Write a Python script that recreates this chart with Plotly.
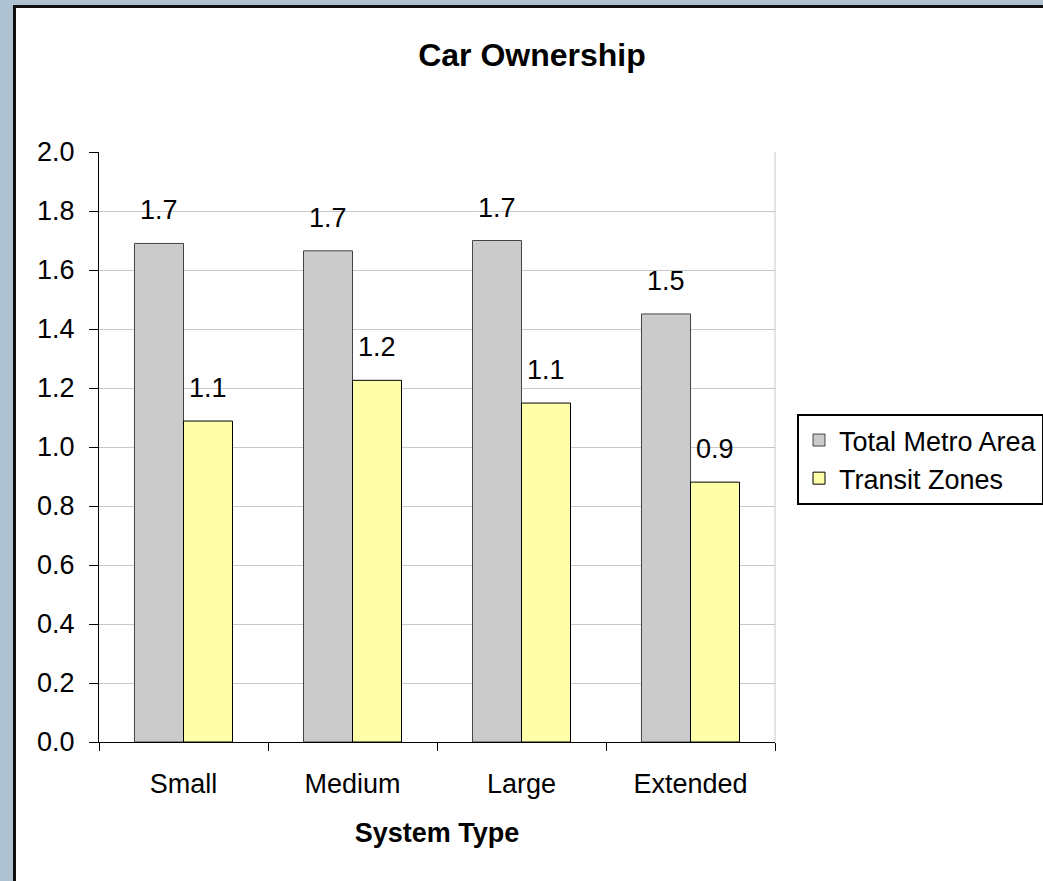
import plotly.graph_objects as go

categories = ["Small", "Medium", "Large", "Extended"]
total_metro = [1.69, 1.665, 1.70, 1.451]
transit_zones = [1.088, 1.226, 1.149, 0.881]
series_names = ["Total Metro Area", "Transit Zones"]
y_ticks = [0.0, 0.2, 0.4, 0.6, 0.8, 1.0, 1.2, 1.4, 1.6, 1.8, 2.0]

FONT = "Liberation Sans, Arial, sans-serif"
W, H = 1043, 881
L, R, T, B = 99, 268, 152, 139
PW, PH = W - L - R, H - T - B

def px_x(px):
    return (px - L) / PW

def px_y(py):
    return (H - B - py) / PH

fig = go.Figure()
fig.add_trace(go.Bar(
    x=categories, y=total_metro, name=series_names[0],
    marker=dict(color="#cbcbcb", line=dict(color="#444444", width=1)),
))
fig.add_trace(go.Bar(
    x=categories, y=transit_zones, name=series_names[1],
    marker=dict(color="#ffffaa", line=dict(color="#000000", width=1)),
))

cat_w = PW / len(categories)
bargap = 0.42
bar_w = cat_w * (1 - bargap) / 2
for vals, sign in ((total_metro, -1), (transit_zones, 1)):
    for c, v in zip(categories, vals):
        fig.add_annotation(
            x=c, y=v, xref="x", yref="y", text=f"{v:.1f}", showarrow=False,
            xshift=sign * bar_w / 2, yshift=33, yanchor="middle",
            font=dict(family=FONT, size=27, color="#000000"),
        )

# white panel with black border
fig.add_shape(type="rect", xref="paper", yref="paper",
              x0=px_x(14.5), x1=px_x(1060), y0=px_y(900), y1=px_y(6.5),
              fillcolor="#ffffff", line=dict(color="#111111", width=3), layer="below")
# right edge of plot area
fig.add_shape(type="line", xref="paper", yref="paper", x0=1, x1=1, y0=0, y1=1,
              line=dict(color="#c8c8c8", width=1), layer="below")

fig.update_layout(
    width=W, height=H,
    margin=dict(l=L, r=R, t=T, b=B, autoexpand=False),
    paper_bgcolor="#aec2d1",
    plot_bgcolor="rgba(0,0,0,0)",
    barmode="group", bargap=bargap, bargroupgap=0,
    font=dict(family=FONT, size=27, color="#000000"),
    title=dict(text="<b>Car Ownership</b>", x=532 / W, xref="container", xanchor="center",
               y=1 - 55 / H, yref="container", yanchor="middle",
               font=dict(family=FONT, size=32, color="#000000")),
    showlegend=True,
    legend=dict(x=797 / W, xref="container", xanchor="left",
                y=1 - 414 / H, yref="container", yanchor="top",
                bgcolor="#ffffff", bordercolor="#000000", borderwidth=2,
                font=dict(family=FONT, size=27, color="#000000"),
                itemwidth=30, tracegroupgap=0),
    xaxis=dict(
        showline=True, linecolor="#000000", linewidth=1,
        ticks="outside", ticklen=8, tickcolor="#000000", tickson="boundaries",
        showgrid=False, ticklabelstandoff=18,
        tickfont=dict(family=FONT, size=27),
        title=dict(text="<b>System Type</b>", standoff=24,
                   font=dict(family=FONT, size=27)),
    ),
    yaxis=dict(
        range=[0, 2], tickvals=y_ticks, tickformat=".1f",
        showline=True, linecolor="#000000", linewidth=1,
        ticks="outside", ticklen=9, tickcolor="#000000",
        showgrid=True, gridcolor="#c8c8c8", gridwidth=1,
        zeroline=False, ticklabelstandoff=9,
        tickfont=dict(family=FONT, size=27),
    ),
)

fig.write_html("out.html")
